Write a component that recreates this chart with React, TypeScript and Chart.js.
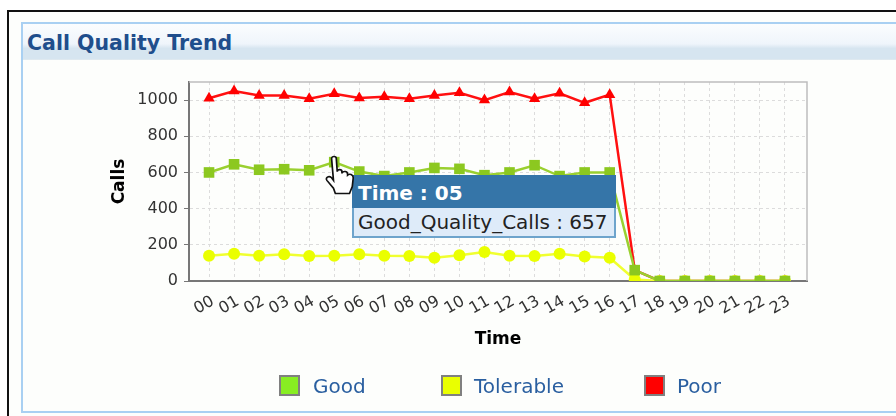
import React, { useEffect, useRef } from "react";
import { Chart, registerables } from "chart.js";

Chart.register(...registerables);

const hours = ["00","01","02","03","04","05","06","07","08","09","10","11","12","13","14","15","16","17","18","19","20","21","22","23"];
const good = [600,645,615,618,612,657,605,580,600,625,620,585,600,640,580,600,600,60,0,0,0,0,0,0];
const tolerable = [140,150,140,148,138,140,148,140,138,128,142,160,140,138,150,135,128,8,0,0,0,0,0,0];
const poor = [1010,1050,1025,1025,1008,1035,1012,1018,1008,1025,1040,1000,1045,1008,1038,985,1030,60,0,0,0,0,0,0];
const yTicks = [0,200,400,600,800,1000];

const legendItems = [
  { label: "Good", color: "#88ee22", boxX: 279, textX: 313 },
  { label: "Tolerable", color: "#eaff00", boxX: 441, textX: 474 },
  { label: "Poor", color: "#ff0000", boxX: 644, textX: 677 },
];

const toPoints = (values: number[]) => values.map((y, i) => ({ x: i, y }));

const frameLines = {
  id: "frameLines",
  beforeDatasetsDraw(chart: any) {
    const { ctx, chartArea: a } = chart;
    ctx.save();
    ctx.strokeStyle = "#bdbdbd";
    ctx.lineWidth = 1.5;
    ctx.beginPath();
    ctx.moveTo(a.left, a.top);
    ctx.lineTo(a.right, a.top);
    ctx.lineTo(a.right, a.bottom);
    ctx.stroke();
    ctx.restore();
  },
};

export default function App() {
  const ref = useRef<HTMLCanvasElement>(null);
  useEffect(() => {
    const chart = new Chart(ref.current!, {
      type: "line",
      plugins: [frameLines],
      data: {
        datasets: [
          { label: "Good", data: toPoints(good), borderColor: "#9ad030", backgroundColor: "#8cc820", borderWidth: 2.5, pointStyle: "rect", pointRadius: 7.5, pointBorderWidth: 0, tension: 0 },
          { label: "Tolerable", data: toPoints(tolerable), borderColor: "#f0ff30", backgroundColor: "#eaff00", borderWidth: 2.5, pointStyle: "circle", pointRadius: 6, pointBorderWidth: 0, tension: 0 },
          { label: "Poor", data: toPoints(poor), borderColor: "#ff1010", backgroundColor: "#ff0000", borderWidth: 2.5, pointStyle: "triangle", pointRadius: 6.5, pointBorderWidth: 0, tension: 0 },
        ],
      },
      options: {
        responsive: false,
        animation: false,
        events: [],
        layout: { padding: { left: 109, top: 82, right: 89, bottom: 65 } },
        plugins: { legend: { display: false }, tooltip: { enabled: false } },
        scales: {
          x: {
            type: "linear",
            min: -0.8,
            max: 23.88,
            afterFit: (s: any) => { s.height = 70; },
            border: { color: "#777777", width: 2, dash: [3, 3] },
            grid: { color: "#dcdcdc", drawTicks: false },
            title: { display: true, text: "Time", color: "#000", font: { family: "DejaVu Sans", size: 17, weight: "bold" }, padding: { top: 0, bottom: 1 } },
            ticks: {
              stepSize: 1,
              includeBounds: false,
              autoSkip: false,
              minRotation: 30,
              maxRotation: 30,
              padding: 11,
              labelOffset: 4,
              color: "#333333",
              font: { family: "DejaVu Sans", size: 16 },
              callback: (v: any) => hours[v as number],
            },
          },
          y: {
            min: 0,
            max: 1100,
            afterFit: (s: any) => { s.width = 80; },
            border: { color: "#777777", width: 2, dash: [3, 3] },
            grid: { color: "#dcdcdc", tickColor: "#777777", tickBorderDash: [], tickLength: 5 },
            title: { display: true, text: "Calls", color: "#000", font: { family: "DejaVu Sans", size: 17, weight: "bold" }, padding: { top: 0, bottom: 0 } },
            afterBuildTicks: (s: any) => { s.ticks = yTicks.map((value) => ({ value })); },
            ticks: { color: "#333333", padding: 6, font: { family: "DejaVu Sans", size: 16 }, callback: (v: any) => String(v) },
          },
        },
      },
    } as any);
    return () => chart.destroy();
  }, []);

  return (
    <div style={{ position: "fixed", left: 0, top: 0, width: 896, height: 416, overflow: "hidden", background: "#fff" }}>
      <div style={{ position: "absolute", left: 7, top: 10, width: 900, height: 420, borderLeft: "2px solid #111", borderTop: "2px solid #111", background: "#fdfefc", boxSizing: "border-box" }} />
      <div style={{ position: "absolute", left: 21, top: 22, width: 900, height: 391, border: "2px solid #a9d0f2", boxSizing: "border-box" }} />
      <div style={{ position: "absolute", left: 23, top: 24, width: 880, height: 36, background: "linear-gradient(#fbfdfe 0%, #eff5fb 55%, #d6e5f0 68%, #d6e5f0 97%, #e6ecef 100%)", boxSizing: "border-box" }} />
      <div style={{ position: "absolute", left: 27, top: 30, fontFamily: "DejaVu Sans", fontWeight: "bold", fontSize: 20.5, lineHeight: "26px", color: "#1f4e8c", whiteSpace: "nowrap" }}>Call Quality Trend</div>
      <canvas ref={ref} width={896} height={416} style={{ position: "absolute", left: 0, top: 0, display: "block" }} />
      {legendItems.map((it) => (
        <React.Fragment key={it.label}>
          <div style={{ position: "absolute", left: it.boxX, top: 375, width: 21, height: 21, background: it.color, border: "2px solid #808080", boxSizing: "border-box" }} />
          <div style={{ position: "absolute", left: it.textX, top: 374, fontFamily: "DejaVu Sans", fontSize: 20, lineHeight: "24px", color: "#2a5fa0", whiteSpace: "nowrap" }}>{it.label}</div>
        </React.Fragment>
      ))}
      <div style={{ position: "absolute", left: 352, top: 175, width: 264, height: 63, background: "#deebf9", border: "2px solid #6ea4cc", boxSizing: "border-box" }}>
        <div style={{ position: "absolute", left: -2, top: -2, width: 264, height: 33, background: "#3575a8", color: "#fff", fontFamily: "DejaVu Sans", fontWeight: "bold", fontSize: 20, lineHeight: "37px", paddingLeft: 6, boxSizing: "border-box" }}>Time : 05</div>
        <div style={{ position: "absolute", left: 4, top: 34, color: "#222", fontFamily: "DejaVu Sans", fontSize: 20, lineHeight: "22px", whiteSpace: "nowrap" }}>Good_Quality_Calls : 657</div>
      </div>
      <svg width="32" height="42" viewBox="0 0 34 48" preserveAspectRatio="none" style={{ position: "absolute", left: 325, top: 155 }}>
        <path d="M7 4 C7 1 12 1 12 4 L13 19 C13 16 18 16 18 19 L18 21 C19 18 24 18 24 22 L24 23 C26 21 30 22 30 26 L29 36 L26 44 L11 44 L9 38 L2 29 C0 26 4 23 7 26 L9 29 Z" fill="#fff" stroke="#111" strokeWidth="1.8" />
      </svg>
    </div>
  );
}
